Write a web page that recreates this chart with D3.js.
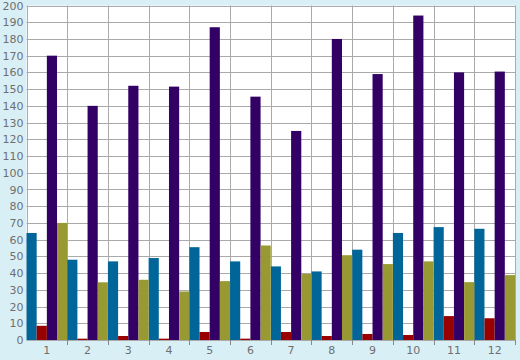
<!DOCTYPE html>
<html><head><meta charset="utf-8">
<script src="https://cdn.jsdelivr.net/npm/d3@7"></script>
<style>html,body{margin:0;padding:0;background:#d9eff6;}svg{display:block;}</style>
</head><body>
<script>
const categories = ["1","2","3","4","5","6","7","8","9","10","11","12"];
const seriesNames = ["A","B","C","D"];
const blueValues   = [64, 48, 47, 49, 55.5, 47, 44, 41, 54, 64, 67.5, 66.5];
const redValues    = [8.5, 0.8, 2.4, 0.8, 4.8, 0.8, 4.8, 2.4, 3.6, 3, 14.3, 13];
const purpleValues = [170, 140, 152, 151.5, 187, 145.5, 125, 180, 159, 194, 160, 160.5];
const oliveValues  = [70, 34.5, 36, 29, 35.2, 56.5, 39.5, 50.7, 45.4, 47, 34.6, 38.8];
const yTicks = d3.range(0, 201, 10);
const colors = ["#006699", "#990000", "#330066", "#999933"];

const W = 520, H = 360;
const m = {left: 26.5, right: 5, top: 5.5, bottom: 20};
const svg = d3.select("body").append("svg").attr("width", W).attr("height", H);
svg.append("rect").attr("width", W).attr("height", H).attr("fill", "#d9eff6");

const x = d3.scaleBand().domain(categories).range([m.left, W - m.right]).padding(0);
const xs = d3.scaleBand().domain(seriesNames).range([0, x.bandwidth()]).padding(0);
const y = d3.scaleLinear().domain([0, 200]).range([H - m.bottom, m.top]);

svg.append("rect").attr("x", m.left).attr("y", m.top)
  .attr("width", W - m.right - m.left).attr("height", H - m.bottom - m.top).attr("fill", "#fff");

// horizontal grid
svg.append("g").selectAll("line").data(yTicks).join("line")
  .attr("x1", m.left).attr("x2", W - m.right)
  .attr("y1", d => Math.round(y(d)) + 0.5).attr("y2", d => Math.round(y(d)) + 0.5)
  .attr("stroke", "#aaaaaa").attr("stroke-width", 1);
// vertical grid
const bounds = categories.map(c => x(c)).concat([x.range()[1]]);
svg.append("g").selectAll("line").data(bounds).join("line")
  .attr("x1", d => Math.round(d) + 0.5).attr("x2", d => Math.round(d) + 0.5)
  .attr("y1", m.top).attr("y2", H - m.bottom)
  .attr("stroke", "#aaaaaa").attr("stroke-width", 1);

const series = [blueValues, redValues, purpleValues, oliveValues];
const g = svg.append("g");
series.forEach((vals, si) => {
  g.append("g").selectAll("rect").data(vals).join("rect")
    .attr("x", (d, i) => x(categories[i]) + xs(seriesNames[si]))
    .attr("width", xs.bandwidth())
    .attr("y", d => y(d))
    .attr("height", d => y(0) - y(d))
    .attr("fill", colors[si]);
});

// y axis labels
const yAxis = d3.axisLeft(y).tickValues(yTicks).tickSize(0).tickPadding(3);
const ya = svg.append("g").attr("transform", `translate(${m.left},0)`).call(yAxis);
ya.select(".domain").remove();
ya.selectAll("text").attr("fill", "#6f6f6f").style("font-family", "DejaVu Sans, Verdana, sans-serif").style("font-size", "11px");

// x axis
const xAxis = d3.axisBottom(x).tickSize(0).tickPadding(6);
const xa = svg.append("g").attr("transform", `translate(0,${H - m.bottom})`).call(xAxis);
xa.select(".domain").remove();
xa.selectAll("text").attr("fill", "#6f6f6f").style("font-family", "DejaVu Sans, Verdana, sans-serif").style("font-size", "11px");
svg.append("g").selectAll("line").data(bounds.slice(1)).join("line")
  .attr("x1", d => Math.round(d) + 0.5).attr("x2", d => Math.round(d) + 0.5)
  .attr("y1", H - m.bottom).attr("y2", H - m.bottom + 5)
  .attr("stroke", "#888").attr("stroke-width", 1);
</script>
</body></html>
